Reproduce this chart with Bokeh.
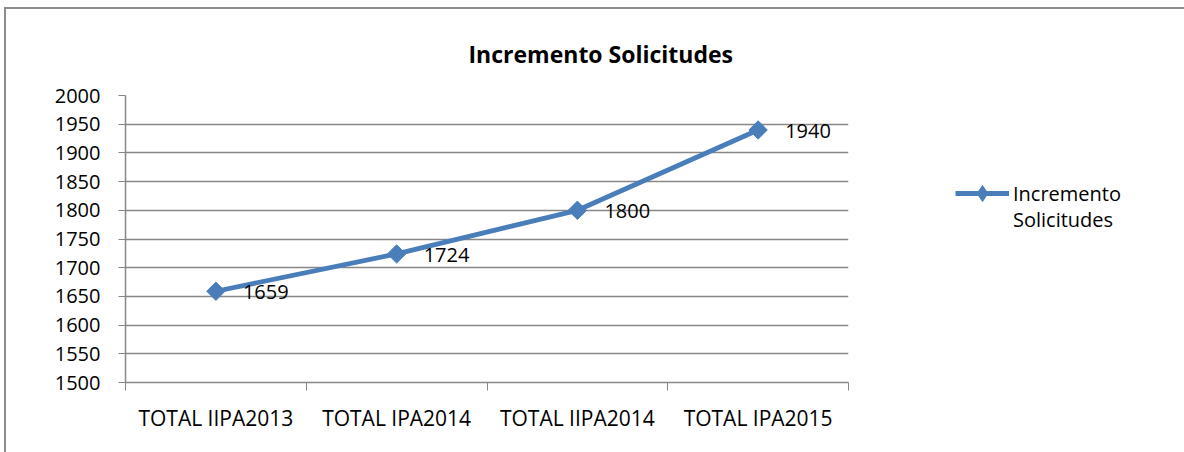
from bokeh.plotting import figure
from bokeh.layouts import row
from bokeh.models import (Range1d, FixedTicker, Legend, LegendItem, ColumnDataSource, Title)
from bokeh.core.properties import value
from bokeh.embed import file_html
from bokeh.resources import INLINE
import math

# ---- data ----
categories = ["TOTAL IIPA2013", "TOTAL IPA2014", "TOTAL IIPA2014", "TOTAL IPA2015"]
values = [1659, 1724, 1800, 1940]
series_name = "Incremento Solicitudes"
title_text = "Incremento Solicitudes"
y_ticks = list(range(1500, 2001, 50))

FONT = "Open Sans"
BLUE = "#4a7ebb"
GRID = "#878787"

xpos = [i + 0.5 for i in range(len(categories))]
src = ColumnDataSource(dict(x=xpos, y=values, lab=[str(v) for v in values]))

H = 443
W1, W2 = 880, 298
FL, FR, FT, FB = 119, 842, 86, 373
p = figure(width=W1, height=H, output_backend="svg", toolbar_location=None,
           x_range=Range1d(0, len(categories)), y_range=Range1d(1500, 2000),
           min_border_left=FL, min_border_right=W1 - FR,
           min_border_top=FT, min_border_bottom=H - FB)
p.outline_line_color = None
p.background_fill_color = "white"
p.border_fill_color = "white"

# axes
p.xaxis.ticker = FixedTicker(ticks=xpos, minor_ticks=list(range(len(categories) + 1)))
p.xaxis.major_label_overrides = {x: c for x, c in zip(xpos, categories)}
p.xaxis.major_tick_line_color = None
p.xaxis.major_tick_out = 0
p.xaxis.major_tick_in = 0
p.xaxis.minor_tick_out = 8
p.xaxis.minor_tick_in = 0
p.xaxis.minor_tick_line_color = GRID
p.xaxis.axis_line_color = GRID
p.xaxis.major_label_standoff = 13
p.xaxis.major_label_text_font_size = "21px"

p.yaxis.ticker = FixedTicker(ticks=y_ticks)
p.yaxis.major_tick_out = 7
p.yaxis.major_tick_in = 0
p.yaxis.minor_tick_line_color = None
p.yaxis.major_tick_line_color = GRID
p.yaxis.axis_line_color = GRID
p.yaxis.major_label_standoff = 18
p.yaxis.major_label_text_font_size = "20px"

for ax in (p.xaxis, p.yaxis):
    ax.major_label_text_font = FONT
    ax.major_label_text_color = "black"
    ax.axis_line_width = 1.5

p.xgrid.grid_line_color = None
p.ygrid.ticker = FixedTicker(ticks=y_ticks)
p.ygrid.grid_line_color = GRID
p.ygrid.grid_line_width = 1.5

# series
p.line("x", "y", source=src, line_color=BLUE, line_width=4.8)
p.scatter("x", "y", source=src, marker="square", angle=math.pi / 4, size=13,
          fill_color=BLUE, line_color=BLUE)
p.text("x", "y", text="lab", source=src, x_offset=27, y_offset=1,
       text_font=value(FONT), text_font_size="20px", text_baseline="middle",
       text_align="left", text_color="black")

# title
p.add_layout(Title(text=title_text, align="left", offset=343, standoff=52,
                   text_font=FONT, text_font_size="23px", text_font_style="bold",
                   text_color="black"), "above")

# legend panel (separate figure; its ranges keep the series itself out of view,
# only the legend key is shown)
q = figure(width=W2, height=H, output_backend="svg", toolbar_location=None,
           x_range=Range1d(0, 1), y_range=Range1d(0, 1),
           min_border_left=0, min_border_right=0, min_border_top=0, min_border_bottom=0)
q.axis.visible = False
q.grid.grid_line_color = None
q.outline_line_color = None
q.background_fill_color = "white"
q.border_fill_color = "white"
ql = q.line("x", "y", source=src, line_color=BLUE, line_width=4.8)
qs = q.scatter("x", "y", source=src, marker="diamond", size=17,
               fill_color=BLUE, line_color=BLUE)
qg = q.line("x", "y", source=src, line_alpha=0)

words = series_name.split(" ")
common = dict(orientation="vertical", glyph_width=54, label_standoff=4,
              label_text_font=FONT, label_text_font_size="20px",
              label_text_baseline="middle", label_text_color="black",
              border_line_color=None, background_fill_alpha=0,
              padding=0, margin=0, spacing=0)
leg1 = Legend(items=[LegendItem(label=words[0], renderers=[ql, qs])],
              location=(69, 169), glyph_height=40, label_height=40, **common)
leg2 = Legend(items=[LegendItem(label=words[1], renderers=[qg])],
              location=(69, 149), glyph_height=27, label_height=27, **common)
q.add_layout(leg1)
q.add_layout(leg2)

layout = row(p, q, spacing=0,
             styles={"margin-left": "4px", "margin-top": "7px",
                     "border-top": "2px solid #8c8c8c", "border-left": "2px solid #8c8c8c"})

open("out.html", "w").write(file_html(layout, INLINE))
